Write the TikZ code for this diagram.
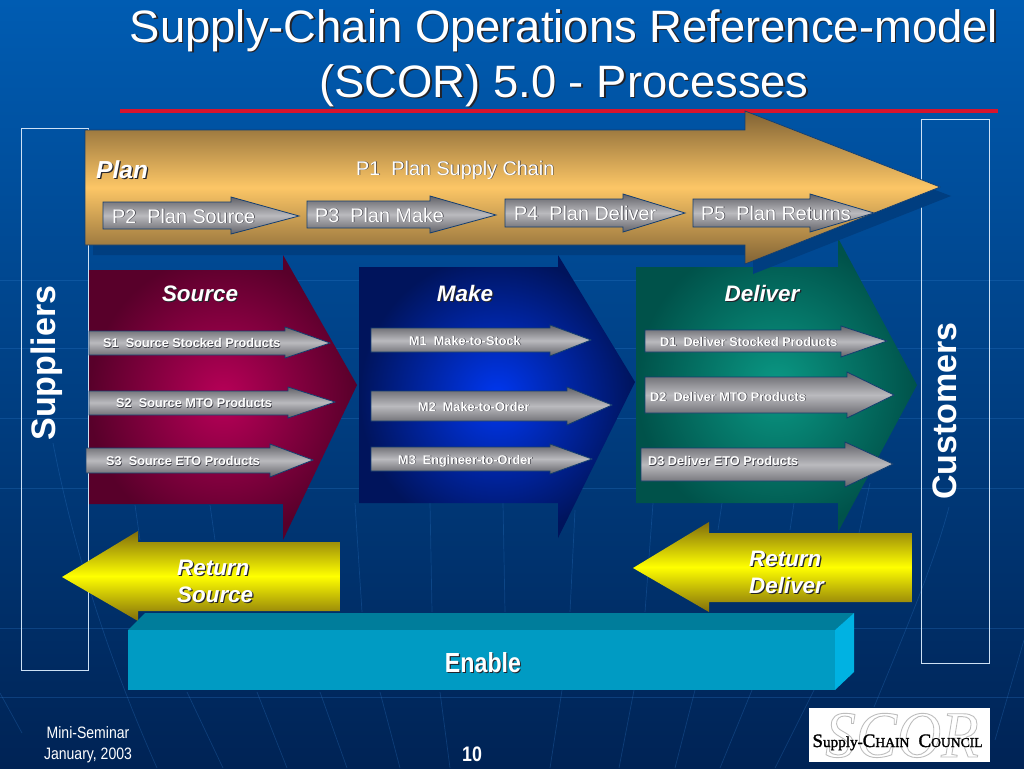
\documentclass[tikz,border=0pt]{standalone}
\usepackage{fontspec}
\setmainfont{Liberation Sans}
\newfontfamily\logofont{Liberation Serif}
\newfontfamily\logobold[FakeBold=1.6]{Liberation Serif}
\definecolor{bgtop}{RGB}{0,92,178}
\definecolor{bgmid}{RGB}{0,70,145}
\definecolor{bgbot}{RGB}{0,35,85}
\definecolor{gridc}{RGB}{50,125,205}
\definecolor{redline}{RGB}{215,20,45}
\definecolor{planmid}{RGB}{252,198,102}
\definecolor{planedge}{RGB}{128,98,52}
\definecolor{planshadow}{RGB}{0,62,128}
\definecolor{edgeblue}{RGB}{20,62,112}
\definecolor{greymid}{RGB}{186,186,190}
\definecolor{greyedge}{RGB}{98,98,104}
\definecolor{srcmid}{RGB}{184,0,88}
\definecolor{srcedge}{RGB}{88,0,42}
\definecolor{makemid}{RGB}{0,55,240}
\definecolor{makeedge}{RGB}{0,20,92}
\definecolor{delmid}{RGB}{10,152,132}
\definecolor{deledge}{RGB}{0,82,74}
\definecolor{yelmid}{RGB}{255,255,0}
\definecolor{yeledge}{RGB}{128,108,12}
\definecolor{enfront}{RGB}{0,155,195}
\definecolor{entop}{RGB}{0,125,155}
\definecolor{enright}{RGB}{0,178,226}
\definecolor{boxline}{RGB}{205,225,245}
\definecolor{shadowc}{RGB}{35,35,42}
\definecolor{softshadow}{RGB}{60,60,68}
\newcommand\fs[1]{\fontsize{#1}{#1}\selectfont}
\newcommand\shd[2][1.2pt]{\leavevmode\rlap{\kern#1\raisebox{-#1}{\textcolor{shadowc}{#2}}}#2}
\newcommand\sft[1]{\leavevmode\rlap{\kern.7pt\raisebox{-.7pt}{\textcolor{softshadow}{#1}}}#1}
\newcommand\outl[1]{\special{pdf:code 1 Tr 0.9 w 0.74 G}#1\special{pdf:code 0 Tr 1 w 0 G}}
% x0 x1 xt ytop ybot htop hbot yt
\newcommand\rarrowpath[8]{(#1,#4) -- (#2,#4) -- (#2,#6) -- (#3,#8) -- (#2,#7) -- (#2,#5) -- (#1,#5) -- cycle}
\tikzset{
  greyarrow/.style={draw=edgeblue,line width=.8pt,top color=greyedge,bottom color=greyedge,middle color=greymid},
  yellowarrow/.style={top color=yeledge,bottom color=yeledge,middle color=yelmid},
  sidebox/.style={draw=boxline,line width=1pt},
  gridline/.style={draw=gridc,opacity=.28,line width=.7pt},
  lbl/.style={text=white,inner sep=0pt,anchor=base west},
  lblc/.style={text=white,inner sep=0pt,anchor=base},
}
\begin{document}
\begin{tikzpicture}[x=1pt,y=-1pt]
\useasboundingbox (0,0) rectangle (1024,768);
\shade[top color=bgtop,middle color=bgmid,bottom color=bgbot] (0,0) rectangle (1024,768);
% background pattern
\foreach \yy in {280,348,418,488,628,697} \draw[gridline] (0,\yy) -- (1024,\yy);
\draw[gridline] (0,693) -- (22,733);
\draw[gridline] (53,443) .. controls (70,530) and (100,640) .. (157,768);
\draw[gridline] (135,505) -- (140,540);
\draw[gridline] (210,505) -- (215,540);
\draw[gridline] (187,692) -- (223,768);
\draw[gridline] (257,692) -- (287,768);
\draw[gridline] (320,692) -- (347,768);
\draw[gridline] (380,692) -- (400,768);
\draw[gridline] (440,692) -- (450,768);
\draw[gridline] (355,503) -- (362,612);
\draw[gridline] (430,503) -- (432,612);
\draw[gridline] (503,503) -- (505,612);
\draw[gridline] (575,510) -- (570,612);
\draw[gridline] (653,503) -- (645,612);
\draw[gridline] (722,503) -- (718,530);
\draw[gridline] (794,503) -- (790,530);
\draw[gridline] (870,483) -- (859,533);
\draw[gridline] (562,690) -- (550,768);
\draw[gridline] (634,690) -- (619,768);
\draw[gridline] (695,690) -- (675,768);
\draw[gridline] (752,690) -- (720,768);
\draw[gridline] (814,690) -- (775,768);
\draw[gridline] (949,507) .. controls (935,560) and (910,620) .. (874,707);
\draw[gridline] (1024,640) -- (995,740);
% title
\fill[redline] (120,108.5) rectangle (998,112.5);
\node[lblc] (title1) at (564,42) {\fs{45.4}\shd[1.6pt]{Supply-Chain Operations Reference-model}};
\node[lblc] (title2) at (564,97) {\fs{45.4}\shd[1.6pt]{(SCOR) 5.0 - Processes}};
% side boxes
\draw[sidebox] (21,128) rectangle (88,670);
\draw[sidebox] (921,119) rectangle (989,663);
\node[text=white,inner sep=0pt,rotate=90] (suppliers) at (46.5,363) {\fs{34}\bfseries Suppliers};
\node[text=white,inner sep=0pt,rotate=90] (customers) at (945,411) {\fs{34}\bfseries Customers};
% process arrows
\shade[inner color=srcmid,outer color=srcedge] \rarrowpath{89}{283}{357}{270}{504}{255}{540}{385};
\shade[inner color=makemid,outer color=makeedge] \rarrowpath{359}{558}{635}{267}{503}{255}{538}{382};
\shade[inner color=delmid,outer color=deledge] \rarrowpath{636}{838}{917}{267}{503}{238}{532}{385};
% plan arrow
\fill[planshadow] (93,140) -- (753,140) -- (753,121) -- (951,196) -- (753,274) -- (753,255) -- (93,255) -- cycle;
\shade[top color=planedge,bottom color=planedge,middle color=planmid] \rarrowpath{85}{745}{940}{130}{245}{111}{264}{187};
\draw[edgeblue,line width=.7pt] \rarrowpath{85}{745}{940}{130}{245}{111}{264}{187};
\node[lbl] (plan) at (96,178) {\fs{24.6}\bfseries\itshape\shd{Plan}};
\node[lbl] (p1) at (356,175) {\fs{19.8}\sft{P1\hspace{.556em}Plan Supply Chain}};
% plan children
\path[greyarrow] \rarrowpath{103}{231}{299}{202}{229}{197}{234}{216};
\path[greyarrow] \rarrowpath{307}{430}{496}{201}{228}{196}{233}{215};
\path[greyarrow] \rarrowpath{505}{623}{685}{199}{227}{194}{232}{213};
\path[greyarrow] \rarrowpath{693}{810}{874}{199}{227}{194}{232}{213};
\node[lbl] (p2) at (112,223) {\fs{19.8}\sft{P2\hspace{.556em}Plan Source}};
\node[lbl] (p3) at (315,222) {\fs{19.8}\sft{P3\hspace{.556em}Plan Make}};
\node[lbl] (p4) at (514,220) {\fs{19.8}\sft{P4\hspace{.556em}Plan Deliver}};
\node[lbl] (p5) at (701,220) {\fs{19.8}\sft{P5\hspace{.556em}Plan Returns}};
% section headings
\node[lblc] (source) at (200,301) {\fs{22.4}\bfseries\itshape\shd{Source}};
\node[lblc] (make) at (465,301) {\fs{22.4}\bfseries\itshape\shd{Make}};
\node[lblc] (deliver) at (762,301) {\fs{22.4}\bfseries\itshape\shd{Deliver}};
% source children
\path[greyarrow] \rarrowpath{89}{285}{330}{331}{355}{327}{358}{343};
\path[greyarrow] \rarrowpath{89}{288}{335}{391}{415}{387}{418}{402};
\path[greyarrow] \rarrowpath{86}{270}{313}{448}{473}{444}{477}{460};
\node[lbl] (s1) at (103,347.5) {\fs{12.7}\bfseries\sft{S1\hspace{.556em}Source Stocked Products}};
\node[lbl] (s2) at (116,407.5) {\fs{12.7}\bfseries\sft{S2\hspace{.556em}Source MTO Products}};
\node[lbl] (s3) at (106,465.5) {\fs{12.7}\bfseries\sft{S3\hspace{.556em}Source ETO Products}};
% make children
\path[greyarrow] \rarrowpath{371}{550}{591}{328}{352}{325}{356}{340};
\path[greyarrow] \rarrowpath{371}{567}{612}{391}{421}{387}{425}{405};
\path[greyarrow] \rarrowpath{371}{550}{592}{447}{471}{444}{474}{459};
\node[lbl] (m1) at (409,345) {\fs{12.7}\bfseries\sft{M1\hspace{.556em}Make-to-Stock}};
\node[lbl] (m2) at (418,411) {\fs{12.7}\bfseries\sft{M2\hspace{.556em}Make-to-Order}};
\node[lbl] (m3) at (398,464) {\fs{12.7}\bfseries\sft{M3\hspace{.556em}Engineer-to-Order}};
% deliver children
\path[greyarrow] \rarrowpath{645}{841}{887}{330}{352}{326}{357}{341};
\path[greyarrow] \rarrowpath{645}{847}{894}{377}{413}{372}{418}{395};
\path[greyarrow] \rarrowpath{641}{845}{893}{448}{481}{442}{487}{464};
\node[lbl] (d1) at (660,346) {\fs{12.7}\bfseries\sft{D1\hspace{.556em}Deliver Stocked Products}};
\node[lbl] (d2) at (650,401) {\fs{12.7}\bfseries\sft{D2\hspace{.556em}Deliver MTO Products}};
\node[lbl] (d3) at (648,465.5) {\fs{12.7}\bfseries\sft{D3 Deliver ETO Products}};
% return arrows
\shade[yellowarrow] (340,542) -- (138,542) -- (138,531) -- (62,577) -- (138,621) -- (138,611) -- (340,611) -- cycle;
\shade[yellowarrow] (912,533) -- (709,533) -- (709,522) -- (633,568) -- (709,612) -- (709,602) -- (912,602) -- cycle;
\node[lbl] (rs1) at (177,575) {\fs{22.4}\bfseries\itshape\shd{Return}};
\node[lbl] (rs2) at (177,602) {\fs{22.4}\bfseries\itshape\shd{Source}};
\node[lbl] (rd1) at (749,566) {\fs{22.4}\bfseries\itshape\shd{Return}};
\node[lbl] (rd2) at (749,593) {\fs{22.4}\bfseries\itshape\shd{Deliver}};
% enable
\fill[entop] (128,630) -- (145,613) -- (854,613) -- (835,630) -- cycle;
\fill[enright] (835,630) -- (854,613) -- (854,672) -- (835,690) -- cycle;
\fill[enfront] (128,630) rectangle (835,690);
\node[lblc] (enable) at (483,672) {\fs{27.6}\bfseries\scalebox{.84}[1]{\shd{Enable}}};
% footer
\node[lblc] (mini) at (88,738.5) {\fs{16.5}\scalebox{.85}[1]{Mini-Seminar}};
\node[lblc] (jan) at (88,759) {\fs{16.5}\scalebox{.85}[1]{January, 2003}};
\node[lblc] (pagenum) at (472,761) {\fs{21}\bfseries\scalebox{.85}[1]{10}};
% logo
\fill[white] (809,708) rectangle (990,762);
\node[inner sep=0pt,anchor=base] (scor) at (902,757) {\logofont\itshape\fs{66}\scalebox{.93}[1]{\outl{SCOR}}};
\node[inner sep=0pt,anchor=base,text=black] (council) at (897.5,747) {\logobold\fs{15.2}{\fs{19}S}upply-{\fs{19}C}{\fs{13.6}HAIN}\hspace{.6em}{\fs{19}C}{\fs{13.6}OUNCIL}};
\end{tikzpicture}
\end{document}
